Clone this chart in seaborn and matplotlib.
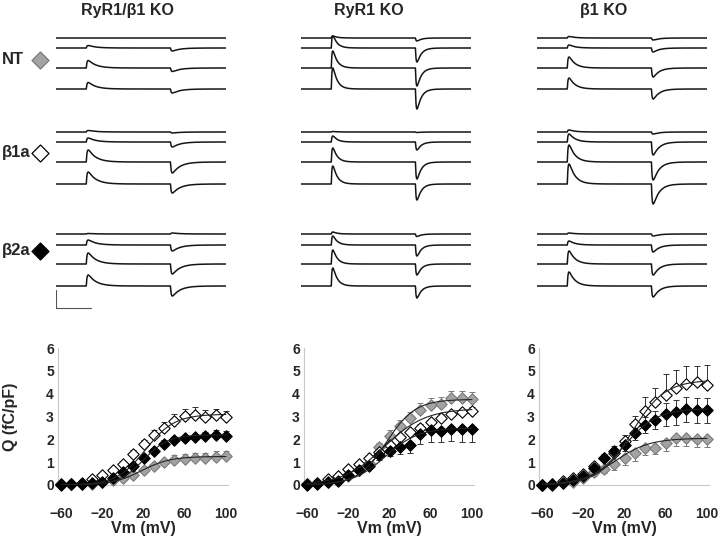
import numpy as np
import pandas as pd
import matplotlib
matplotlib.use('Agg')
import matplotlib.pyplot as plt
import seaborn as sns

sns.set_theme(style='white')
plt.rcParams['font.family'] = ['Liberation Sans', 'DejaVu Sans']
plt.rcParams['font.weight'] = 'bold'

# --- data ---------------------------------------------------------------
titles = ['RyR1/\u03b21 KO', 'RyR1 KO', '\u03b21 KO']
groups = ['NT', '\u03b21a', '\u03b22a']

# charge movement transients, amplitude of ON (up) and OFF (down) per trace
# rows = NT, b1a, b2a ; 4 test pulses each
on_ryr1b1 = [[0, 2.5, 7.5, 6.5], [1.5, 4, 12, 12], [0.5, 5, 11, 11]]
off_ryr1b1 = [[0, 3, 3.5, 4], [1, 5, 11, 9], [-1, 6, 10, 10]]
on_ryr1 = [[2, 12, 17, 21], [0.5, 6, 14, 18], [2, 9, 14, 18]]
off_ryr1 = [[3, 14, 18, 20], [0.5, 8, 17, 16], [2.5, 11, 11, 12]]
on_b1 = [[1.5, 3, 11, 11], [2, 8, 17, 20], [1, 4, 13, 14]]
off_b1 = [[2, 4, 9, 10], [2, 13, 18, 20], [2, 7, 11, 11]]
decay_ms = [4.5, 2.5, 3.5]

# Q-V
vm = [-60, -50, -40, -30, -20, -10, 0, 10, 20, 30, 40, 50, 60, 70, 80, 90, 100]

q1_nt = [0.05, 0.05, 0.05, 0.05, 0.12, 0.2, 0.3, 0.45, 0.65, 0.85, 1.0, 1.1, 1.15, 1.2, 1.2, 1.22, 1.25]
q1_b1a = [0.05, 0.05, 0.1, 0.28, 0.42, 0.66, 0.9, 1.35, 1.78, 2.18, 2.5, 2.82, 3.02, 3.05, 3.0, 3.05, 3.0]
q1_b2a = [0.02, 0.03, 0.05, 0.08, 0.15, 0.3, 0.55, 0.85, 1.2, 1.5, 1.8, 1.95, 2.05, 2.1, 2.15, 2.2, 2.15]
e1_nt = [0, 0, 0, 0, 0.05, 0.05, 0.08, 0.1, 0.1, 0.12, 0.15, 0.2, 0.2, 0.2, 0.2, 0.25, 0.25]
e1_b1a = [0, 0, 0, 0.05, 0.05, 0.1, 0.15, 0.2, 0.2, 0.25, 0.25, 0.3, 0.3, 0.35, 0.3, 0.3, 0.25]
e1_b2a = [0, 0, 0, 0, 0.05, 0.05, 0.1, 0.1, 0.12, 0.12, 0.15, 0.15, 0.15, 0.15, 0.15, 0.2, 0.2]

q2_nt = [0.05, 0.1, 0.15, 0.25, 0.4, 0.65, 0.95, 1.65, 2.15, 2.6, 2.95, 3.3, 3.5, 3.56, 3.8, 3.8, 3.76]
q2_b1a = [0.05, 0.1, 0.25, 0.4, 0.7, 0.9, 1.2, 1.45, 1.75, 2.1, 2.3, 2.5, 2.75, 2.95, 3.1, 3.2, 3.25]
q2_b2a = [0.02, 0.05, 0.15, 0.18, 0.42, 0.65, 0.85, 1.3, 1.5, 1.65, 1.75, 2.25, 2.4, 2.37, 2.47, 2.45, 2.45]
e2_nt = [0, 0, 0, 0.05, 0.1, 0.1, 0.15, 0.2, 0.25, 0.25, 0.25, 0.3, 0.3, 0.3, 0.3, 0.3, 0.3]
e2_b1a = [0, 0, 0, 0.05, 0.05, 0.1, 0.1, 0.1, 0.15, 0.15, 0.15, 0.15, 0.15, 0.15, 0.15, 0.15, 0.15]
e2_b2a = [0, 0, 0.05, 0.05, 0.1, 0.1, 0.15, 0.2, 0.25, 0.3, 0.35, 0.45, 0.5, 0.5, 0.55, 0.55, 0.55]

q3_nt = [0.0, 0.05, 0.1, 0.15, 0.3, 0.55, 0.72, 0.9, 1.17, 1.42, 1.6, 1.64, 1.86, 2.05, 2.05, 2.02, 2.0]
q3_b1a = [0.0, 0.0, 0.17, 0.32, 0.47, 0.83, 1.17, 1.4, 1.93, 2.66, 3.25, 3.62, 3.95, 4.27, 4.42, 4.5, 4.4]
q3_b2a = [0.0, 0.05, 0.1, 0.2, 0.4, 0.76, 1.2, 1.5, 1.76, 2.27, 2.63, 2.84, 3.1, 3.18, 3.32, 3.28, 3.28]
e3_nt = [0, 0, 0, 0.05, 0.1, 0.15, 0.2, 0.25, 0.3, 0.35, 0.3, 0.3, 0.35, 0.35, 0.35, 0.35, 0.35]
e3_b1a = [0, 0, 0, 0, 0.05, 0.1, 0.15, 0.2, 0.25, 0.35, 0.6, 0.65, 0.9, 0.75, 0.8, 0.7, 0.85]
e3_b2a = [0, 0, 0, 0.05, 0.1, 0.15, 0.15, 0.2, 0.25, 0.3, 0.35, 0.4, 0.5, 0.55, 0.55, 0.55, 0.55]

# Boltzmann fits: Qmax, V1/2, k   (NT, b1a, b2a)
fit1 = [(1.25, 18, 14), (3.1, 22, 14), (2.2, 20, 12)]
fit2 = [(3.75, 17, 14), (3.35, 15, 20), (2.5, 16, 16)]
fit3 = [(2.05, 10, 17), (4.6, 27, 16), (3.35, 19, 16)]

# --- layout -------------------------------------------------------------
W, H = 720, 537
fig = plt.figure(figsize=(W / 100, H / 100), dpi=100)

col_left = [56, 301, 537]
title_x = [127, 369, 604]
baselines = [[38, 48, 68, 89], [132, 142, 162, 184], [234, 245, 264, 286]]
label_y = [60, 153, 251]

gray_face, gray_edge = '#a3a3a3', '#7a7a7a'
styles = [dict(color=gray_face, edgecolor=gray_edge),
          dict(color='white', edgecolor='black'),
          dict(color='black', edgecolor='black')]

# overlay in pixel coordinates for titles and row labels
ov = fig.add_axes([0, 0, 1, 1])
ov.set_xlim(0, W)
ov.set_ylim(H, 0)
ov.axis('off')
for x, t in zip(title_x, titles):
    ov.text(x, 11, t, ha='center', va='center', fontsize=11.5, fontweight='bold')
for y, g, st in zip(label_y, groups, styles):
    ov.text(2, y, g, ha='left', va='center', fontsize=12, fontweight='bold')
    ov.scatter([40], [y], marker='D', s=75, linewidth=0.9, c=st['color'], edgecolors=st['edgecolor'])

# --- current traces ------------------------------------------------------
t = np.linspace(-18, 83, 900)


def transient(tt, tau):
    tp = np.clip(tt, 0, None)
    out = np.where(tt >= 0, (1 - np.exp(-tp / 0.5)) * np.exp(-tp / tau), 0.0)
    return out / out.max()


trace_sets = [(on_ryr1b1, off_ryr1b1), (on_ryr1, off_ryr1), (on_b1, off_b1)]
for c, (ons, offs) in enumerate(trace_sets):
    ax = fig.add_axes([col_left[c] / W, (H - 320) / H, 170 / W, 320 / H])
    ax.set_xlim(-18, 83)
    ax.set_ylim(320, 0)
    ax.axis('off')
    on_shape = transient(t, decay_ms[c])
    off_shape = transient(t - 50, decay_ms[c])
    for g in range(3):
        for k in range(4):
            y = baselines[g][k] - ons[g][k] * on_shape + offs[g][k] * off_shape
            sns.lineplot(x=t, y=y, ax=ax, color='#151515', linewidth=1.1, estimator=None)
    if c == 0:
        # scale bar
        ax.plot([-18, -18, 2.8], [290, 308, 308], color='#555555', linewidth=0.8)

# --- Q-V plots -----------------------------------------------------------
qv_left = [58, 304, 539]
qv = [((q1_nt, e1_nt, 'up'), (q1_b1a, e1_b1a, 'up'), (q1_b2a, e1_b2a, 'up')),
      ((q2_nt, e2_nt, 'up'), (q2_b1a, e2_b1a, 'up'), (q2_b2a, e2_b2a, 'down')),
      ((q3_nt, e3_nt, 'down'), (q3_b1a, e3_b1a, 'up'), (q3_b2a, e3_b2a, 'both'))]
fits = [fit1, fit2, fit3]
v_fine = np.linspace(-60, 100, 300)

for c in range(3):
    ax = fig.add_axes([qv_left[c] / W, (H - 485) / H, 170 / W, 137 / H])
    ax.set_xlim(-63, 102)
    ax.set_ylim(0, 6)
    for s in ['top', 'right']:
        ax.spines[s].set_visible(False)
    for s in ['left', 'bottom']:
        ax.spines[s].set_color('#c8c8c8')
        ax.spines[s].set_linewidth(0.8)
    ax.set_xticks([-60, -20, 20, 60, 100])
    ax.set_yticks(range(7))
    ax.tick_params(length=0, labelsize=10)
    ax.tick_params(axis='x', pad=16)
    ax.tick_params(axis='y', pad=3)
    for lab in ax.get_xticklabels() + ax.get_yticklabels():
        lab.set_fontweight('bold')
    for i, ((q, e, d), st) in enumerate(zip(qv[c], styles)):
        q = np.array(q)
        e = np.array(e)
        lo = e if d in ('down', 'both') else np.zeros_like(e)
        hi = e if d in ('up', 'both') else np.zeros_like(e)
        ecol = gray_edge if i == 0 else '#333333'
        ax.errorbar(vm, q, yerr=[lo, hi], fmt='none', ecolor=ecol, elinewidth=0.7,
                    capsize=2, capthick=0.7, zorder=2, clip_on=False)
        sns.scatterplot(x=vm, y=q, ax=ax, marker='D', s=34, linewidth=0.8, zorder=3,
                        clip_on=False, **st)
    for qmax, vh, kk in fits[c]:
        qf = qmax / (1 + np.exp((vh - v_fine) / kk))
        sns.lineplot(x=v_fine, y=qf, ax=ax, color='#222222', linewidth=0.8, zorder=4)
    ax.set_xlabel('Vm (mV)', fontsize=11.5, fontweight='bold', labelpad=0)
    if c == 0:
        ax.set_ylabel('Q (fC/pF)', fontsize=11.5, fontweight='bold')
        ax.yaxis.set_label_coords(-0.235, 0.5)
    else:
        ax.set_ylabel('')

fig.savefig('out.png', dpi=100)
